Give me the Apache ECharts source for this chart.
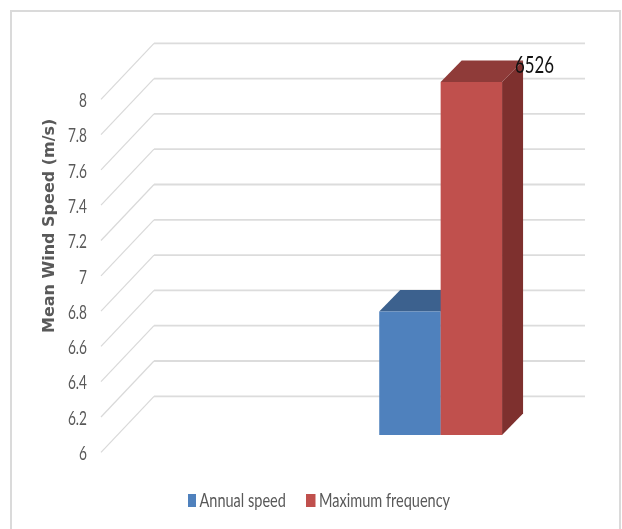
<!DOCTYPE html>
<html>
<head>
<meta charset="utf-8">
<style>html,body{margin:0;padding:0;background:#fff}#chart{width:622px;height:529px}</style>
<script src="https://cdn.jsdelivr.net/npm/echarts@6/dist/echarts.min.js"></script>
</head>
<body>
<div id="chart"></div>
<script>
// Chart values
const categories = ['', ''];
const annualSpeed = [null, 6.7];
const maximumFrequency = [null, 6526];
const gridTicks = [6, 6.2, 6.4, 6.6, 6.8, 7, 7.2, 7.4, 7.6, 7.8, 8];
const axisMin = 6;
const axisMax = 8;
const seriesNames = ['Annual speed', 'Maximum frequency'];
const axisTitle = 'Mean Wind Speed (m/s)';

// Oblique projection used to fake the 3D box
const wallDepth = { x: 53, y: 56 };
const barPlane = { x: 16.4, y: 17.3 };
const barDepth = { x: 21, y: 21.5 };
const barWidthRatio = 0.285;

const bodyFont = 'Lato, "Liberation Sans", sans-serif';
const labelGrey = '#595959';

// Back wall and side wall rules, plus the condensed tick label for each tick
function renderWall(params, api) {
  const cs = params.coordSys;
  const tick = api.value(1);
  const y = api.coord([0, tick])[1];
  const bx = cs.x + wallDepth.x;
  const by = y - wallDepth.y;
  return {
    type: 'group',
    children: [
      { type: 'line', shape: { x1: cs.x, y1: y, x2: bx, y2: by },
        style: { stroke: '#d9d9d9', lineWidth: 1.2 } },
      { type: 'line', shape: { x1: bx, y1: by, x2: bx + cs.width, y2: by },
        style: { stroke: '#dcdcdc', lineWidth: 1.8 } },
      { type: 'text', x: cs.x - 14, y: y + 1.5, scaleX: 0.7,
        style: { text: String(tick), fill: labelGrey, font: '19.5px ' + bodyFont,
                 textAlign: 'right', textVerticalAlign: 'middle' } }
    ]
  };
}

// One box per series; slot 0 or 1 sets which side of the category centre it takes.
function boxRenderer(slot, front, top, side, showLabel) {
  return function (params, api) {
    const value = api.value(1);
    if (value == null || isNaN(value)) return null;
    const idx = api.value(0);
    const band = api.size([1, 0])[0];
    const w = band * barWidthRatio;
    const clamped = Math.min(value, axisMax);
    const base = api.coord([idx, axisMin]);
    const head = api.coord([idx, clamped]);
    const x0 = base[0] + barPlane.x + (slot === 0 ? -w : 0);
    const x1 = x0 + w;
    const yb = base[1] - barPlane.y;
    const yt = head[1] - barPlane.y;
    const dx = barDepth.x, dy = barDepth.y;
    const children = [
      { type: 'polygon', shape: { points: [[x1, yb], [x1 + dx, yb - dy], [x1 + dx, yt - dy], [x1, yt]] },
        style: { fill: side } },
      { type: 'polygon', shape: { points: [[x0, yt], [x0 + dx, yt - dy], [x1 + dx, yt - dy], [x1, yt]] },
        style: { fill: top } },
      { type: 'rect', shape: { x: x0, y: yt, width: w, height: yb - yt },
        style: { fill: front } }
    ];
    if (showLabel) {
      children.push({
        type: 'text', z2: 10, x: x1 + 13, y: yt - 16, scaleX: 0.73,
        style: {
          text: String(value), fill: '#111', font: '23px ' + bodyFont,
          textAlign: 'left', textVerticalAlign: 'middle'
        }
      });
    }
    return { type: 'group', children };
  };
}

function legendEntry(swatchX, swatchW, textX, colour, name) {
  return [
    { type: 'rect', silent: true, shape: { x: swatchX, y: 494, width: swatchW, height: 13 },
      style: { fill: colour } },
    { type: 'text', silent: true, x: textX, y: 501.5, scaleX: 0.785,
      style: { text: name, fill: labelGrey, font: '18.5px ' + bodyFont,
               textAlign: 'left', textVerticalAlign: 'middle' } }
  ];
}

const chart = echarts.init(document.getElementById('chart'), null, { renderer: 'canvas' });
chart.setOption({
  animation: false,
  backgroundColor: '#fff',
  graphic: [
    { type: 'rect', silent: true, z: -1,
      shape: { x: 11, y: 11, width: 609, height: 540 },
      style: { fill: '#fff', stroke: '#dadada', lineWidth: 2 } },
    ...legendEntry(188, 8, 199.5, '#4f81bd', seriesNames[0]),
    ...legendEntry(306, 9.5, 319, '#c0504d', seriesNames[1])
  ],
  grid: { left: 101, right: 90, top: 99.3, bottom: 76.7 },
  xAxis: {
    type: 'category', data: categories,
    axisLine: { show: false }, axisTick: { show: false }, axisLabel: { show: false }
  },
  yAxis: {
    type: 'value', min: axisMin, max: axisMax, interval: 0.2,
    splitLine: { show: false }, axisLine: { show: false }, axisTick: { show: false },
    axisLabel: { show: false },
    name: axisTitle, nameLocation: 'middle', nameRotate: 90, nameGap: 43,
    nameTextStyle: {
      fontFamily: '"DejaVu Sans"', fontWeight: 'bold', fontSize: 16, color: labelGrey,
      padding: [0, 0, 0, 100]
    }
  },
  series: [
    {
      type: 'custom', name: 'walls', silent: true, z: 1, clip: false,
      renderItem: renderWall,
      data: gridTicks.map(t => [0, t]), encode: { x: 0, y: 1 }
    },
    {
      type: 'custom', name: seriesNames[0], z: 2, clip: false,
      renderItem: boxRenderer(0, '#4f81bd', '#3c618e', '#3a5f8b', false),
      data: annualSpeed.map((v, i) => [i, v]), encode: { x: 0, y: 1 }
    },
    {
      type: 'custom', name: seriesNames[1], z: 3, clip: false,
      renderItem: boxRenderer(1, '#c0504d', '#8f3b39', '#7e302e', true),
      data: maximumFrequency.map((v, i) => [i, v]), encode: { x: 0, y: 1 }
    }
  ]
});
</script>
</body>
</html>
